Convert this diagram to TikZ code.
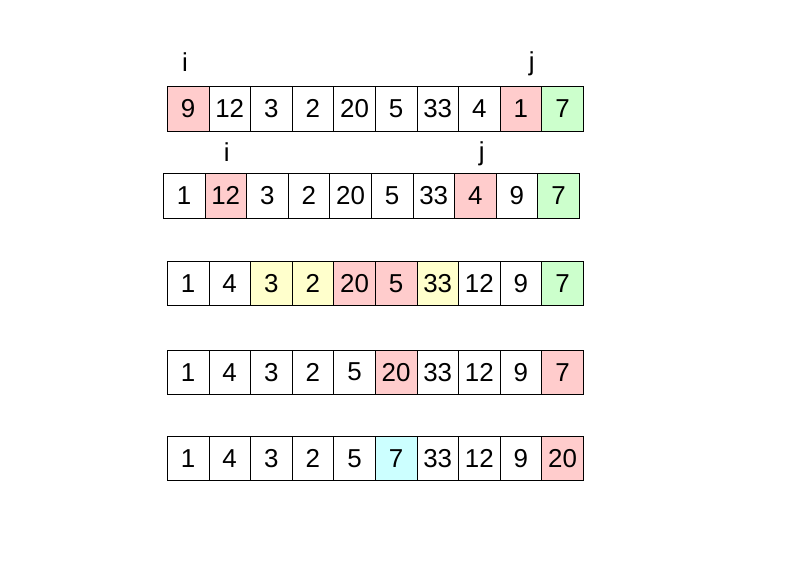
\documentclass[tikz,border=0pt]{standalone}
\usepackage{fontspec}
\setmainfont{Liberation Sans}
\definecolor{pk}{HTML}{FFCCCC}
\definecolor{gr}{HTML}{CCFFCC}
\definecolor{yl}{HTML}{FFFFCC}
\definecolor{cy}{HTML}{CCFFFF}
\definecolor{wh}{HTML}{FFFFFF}
\begin{document}
\begin{tikzpicture}[x=1bp,y=-1bp,
  cell/.style={draw=black, line width=0.8bp, minimum width=41.6bp, minimum height=44.3bp, inner sep=0pt, font=\fontsize{26}{30}\selectfont},
  lbl/.style={inner sep=0pt, font=\fontsize{26}{30}\selectfont}]
\useasboundingbox (0,0) rectangle (794,567);
\fill[white] (0,0) rectangle (794,567);
% row 1
\foreach \v/\c [count=\k] in {9/pk,12/wh,3/wh,2/wh,20/wh,5/wh,33/wh,4/wh,1/pk,7/gr}
  \node[cell, fill=\c] (ra\k) at ({167.3+41.6*(\k-0.5)},108.9) {\v};
\node[lbl] (ia) at (185,62) {i};
\node[lbl] (ja) at (531.7,64) {j};
% row 2
\foreach \v/\c [count=\k] in {1/wh,12/pk,3/wh,2/wh,20/wh,5/wh,33/wh,4/pk,9/wh,7/gr}
  \node[cell, fill=\c] (rb\k) at ({163.3+41.6*(\k-0.5)},195.8) {\v};
\node[lbl] (ib) at (226.7,152) {i};
\node[lbl] (jb) at (481.7,154) {j};
% row 3
\foreach \v/\c [count=\k] in {1/wh,4/wh,3/yl,2/yl,20/pk,5/pk,33/yl,12/wh,9/wh,7/gr}
  \node[cell, fill=\c] (rc\k) at ({167.3+41.6*(\k-0.5)},283.3) {\v};
% row 4
\foreach \v/\c [count=\k] in {1/wh,4/wh,3/wh,2/wh,5/wh,20/pk,33/wh,12/wh,9/wh,7/pk}
  \node[cell, fill=\c] (rd\k) at ({167.3+41.6*(\k-0.5)},372.1) {\v};
% row 5
\foreach \v/\c [count=\k] in {1/wh,4/wh,3/wh,2/wh,5/wh,7/cy,33/wh,12/wh,9/wh,20/pk}
  \node[cell, fill=\c] (re\k) at ({167.3+41.6*(\k-0.5)},458.7) {\v};
\end{tikzpicture}
\end{document}
